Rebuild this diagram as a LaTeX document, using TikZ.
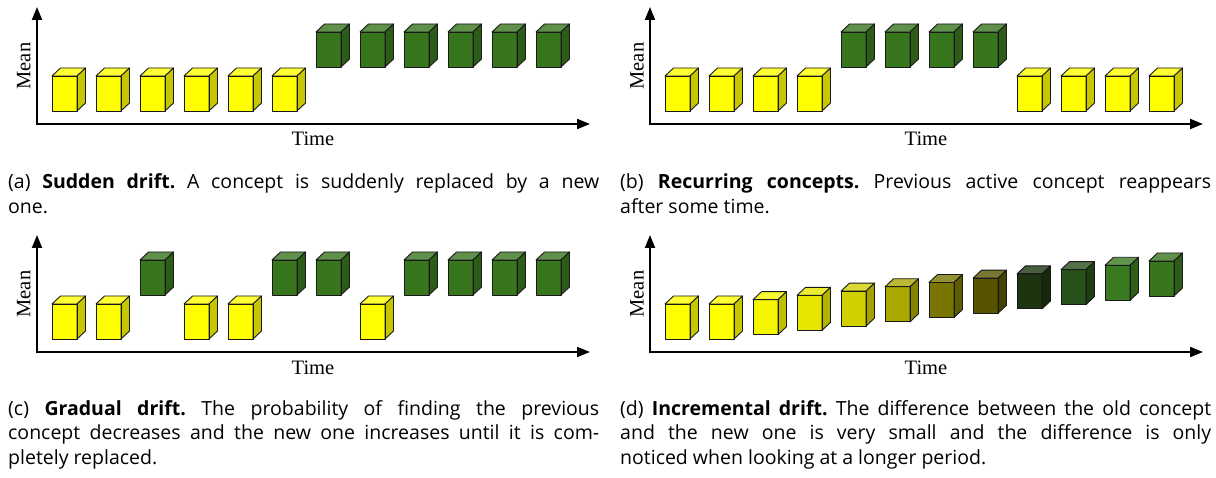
\documentclass[tikz,border=0pt]{standalone}
\usepackage{fontspec}
\usetikzlibrary{arrows.meta}
\newfontfamily\capfont{Open Sans}
\newfontfamily\axfont{Liberation Serif}
\definecolor{cyel}{HTML}{FFFF00}
\definecolor{cgrn}{HTML}{38761D}
\definecolor{dA}{HTML}{F5F500}
\definecolor{dB}{HTML}{E6E600}
\definecolor{dC}{HTML}{D2CF00}
\definecolor{dD}{HTML}{AAA800}
\definecolor{dE}{HTML}{787600}
\definecolor{dF}{HTML}{575400}
\definecolor{dG}{HTML}{1C3410}
\definecolor{dH}{HTML}{27501A}
\definecolor{dI}{HTML}{3A7A20}
\tikzset{
  cubeedge/.style={draw=black!90, line width=0.9pt, line join=round},
  axisline/.style={line width=2pt, {Triangle[length=13pt,width=10pt]}-{Triangle[length=13pt,width=10pt]}},
  axislabel/.style={font=\axfont\fontsize{20.5}{23}\selectfont, inner sep=0pt},
  captext/.style={font=\capfont\fontsize{19.5}{24.5}\selectfont\frenchspacing, text width=591pt, align=justify, inner sep=0pt, anchor=base west}
}
\newcommand\drawcube[3]{%
  \fill[#3] (#1,#2) rectangle ++(25,35);
  \filldraw[fill=#3!80!white, cubeedge] (#1,#2) -- ++(8.5,-8) -- ++(25,0) -- ++(-8.5,8) -- cycle;
  \filldraw[fill=#3!78!black, cubeedge] (#1+25,#2) -- ++(8.5,-8) -- ++(0,35) -- ++(-8.5,8) -- cycle;
  \draw[cubeedge] (#1,#2) rectangle ++(25,35);
}
\begin{document}
\begin{tikzpicture}[x=1pt,y=-1pt]
\useasboundingbox (0,0) rectangle (1216,478);
% ---------- panel (a)
\draw[axisline] (37,7) -- (37,124) -- (590,124);
\node[axislabel, rotate=90, anchor=base] (meanA) at (30.5,66) {Mean};
\node[axislabel, anchor=base] (timeA) at (313,146) {Time};
\foreach \i in {0,...,5} {\drawcube{52+44*\i}{76}{cyel}}
\foreach \i in {6,...,11} {\drawcube{52+44*\i}{32}{cgrn}}
\node[captext] (capA) at (8,189) {(a) \textbf{Sudden drift.} A concept is suddenly replaced by a new\linebreak one.};
% ---------- panel (b)
\draw[axisline] (650,7) -- (650,124) -- (1203,124);
\node[axislabel, rotate=90, anchor=base] (meanB) at (643.5,66) {Mean};
\node[axislabel, anchor=base] (timeB) at (926,146) {Time};
\foreach \i/\h/\c in {0/76/cyel,1/76/cyel,2/76/cyel,3/76/cyel,4/32/cgrn,5/32/cgrn,6/32/cgrn,7/32/cgrn,8/76/cyel,9/76/cyel,10/76/cyel,11/76/cyel} {\drawcube{665+44*\i}{\h}{\c}}
\node[captext] (capB) at (620,189) {(b) \textbf{Recurring concepts.} Previous active concept reappears\linebreak after some time.};
% ---------- panel (c)
\draw[axisline] (37,235) -- (37,352) -- (590,352);
\node[axislabel, rotate=90, anchor=base] (meanC) at (30.5,294) {Mean};
\node[axislabel, anchor=base] (timeC) at (313,374) {Time};
\foreach \i/\h/\c in {0/304/cyel,1/304/cyel,2/260/cgrn,3/304/cyel,4/304/cyel,5/260/cgrn,6/260/cgrn,7/304/cyel,8/260/cgrn,9/260/cgrn,10/260/cgrn,11/260/cgrn} {\drawcube{52+44*\i}{\h}{\c}}
\node[captext] (capC) at (8,415) {(c) \textbf{Gradual drift.} The probability of finding the previous\linebreak concept decreases and the new one increases until it is com-\linebreak pletely replaced.};
% ---------- panel (d)
\draw[axisline] (650,235) -- (650,352) -- (1203,352);
\node[axislabel, rotate=90, anchor=base] (meanD) at (643.5,294) {Mean};
\node[axislabel, anchor=base] (timeD) at (926,374) {Time};
\foreach \i/\r/\c in {0/0/cyel,1/0/cyel,2/4.3/dA,3/8.6/dB,4/12.9/dC,5/17.2/dD,6/21.5/dE,7/25.8/dF,8/30.1/dG,9/34.4/dH,10/38.7/dI,11/43/cgrn} {\drawcube{665+44*\i}{304-\r}{\c}}
\node[captext] (capD) at (620,415) {(d) \textbf{Incremental drift.} The difference between the old concept\linebreak and the new one is very small and the difference is only\linebreak noticed when looking at a longer period.};
\end{tikzpicture}
\end{document}
